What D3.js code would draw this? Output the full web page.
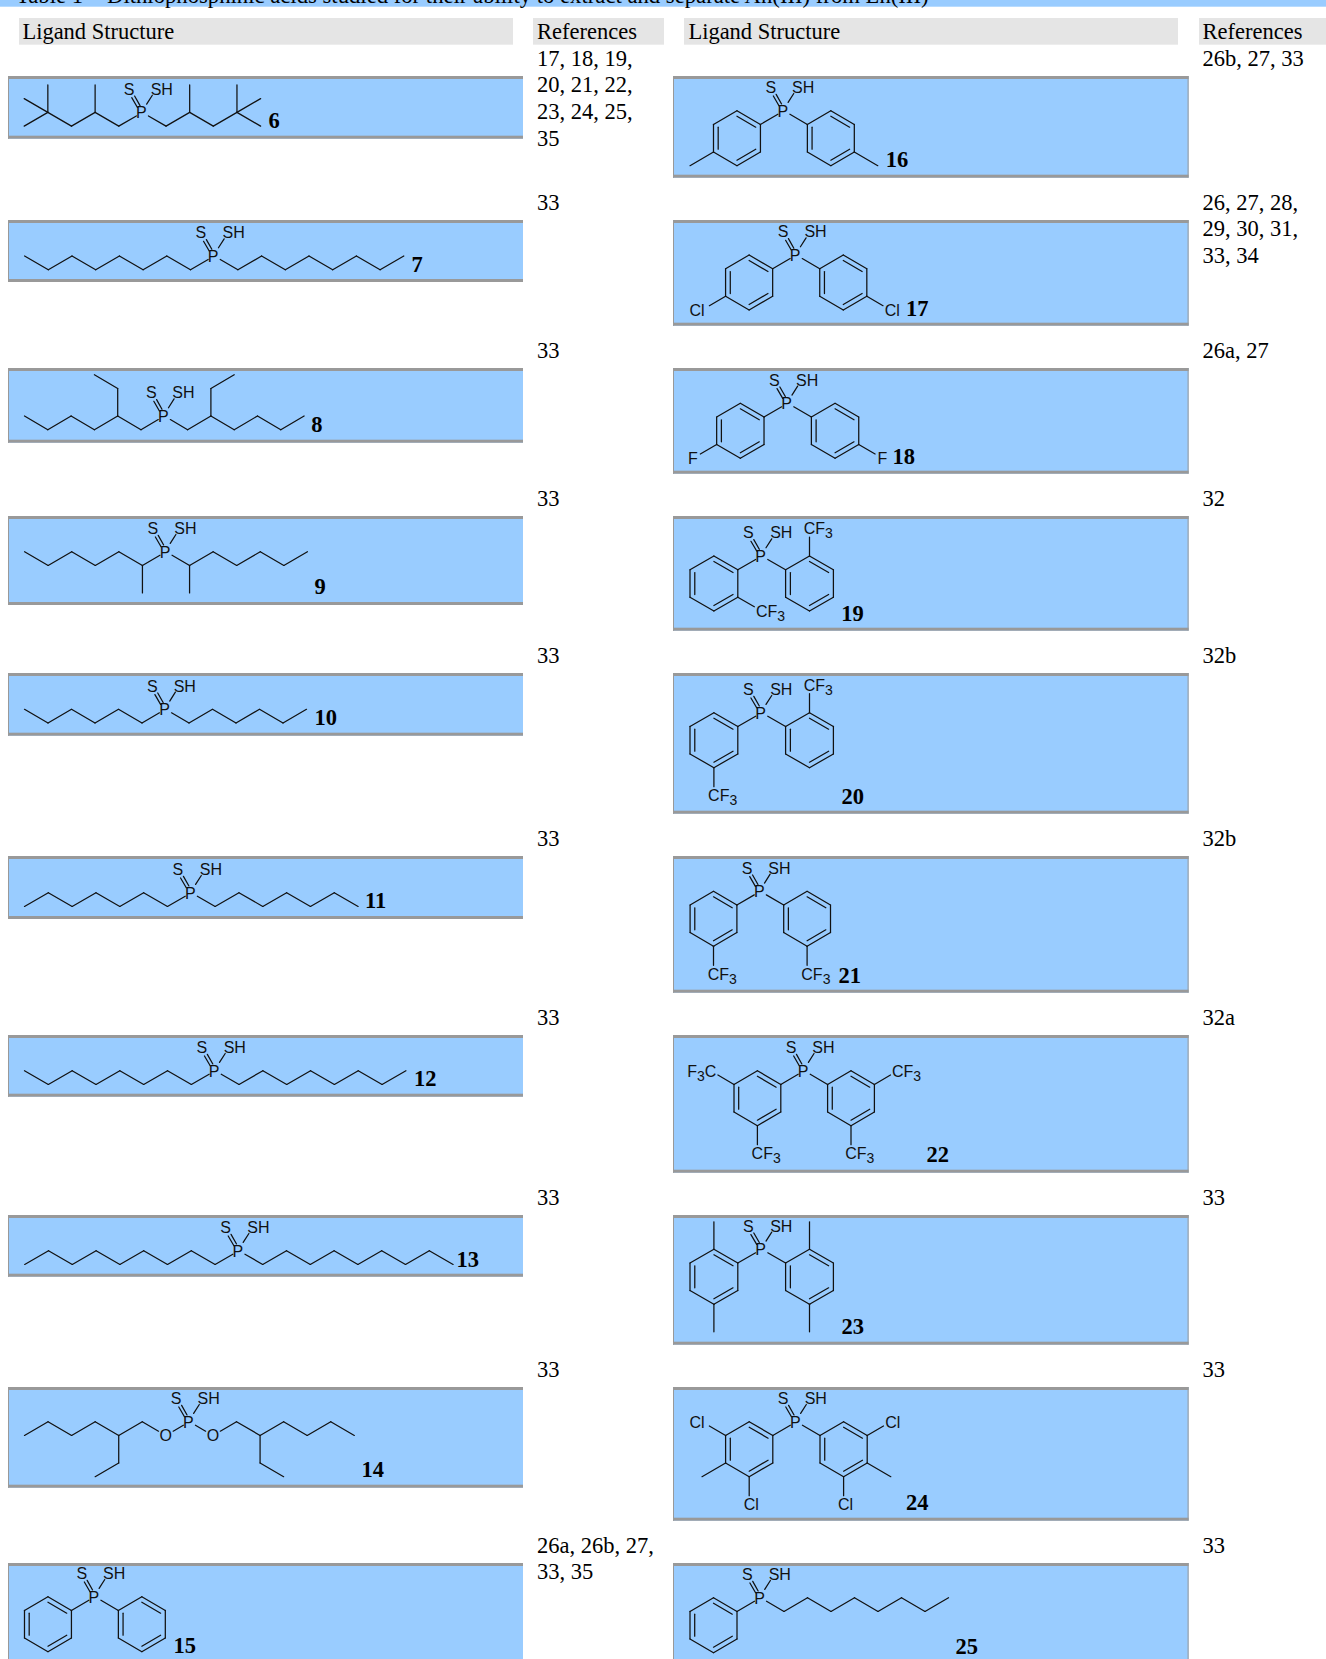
<!DOCTYPE html>
<html>
<head>
<meta charset="utf-8">
<script src="https://d3js.org/d3.v7.min.js"></script>
<style>
  body { margin: 0; background: #fff; }
  svg { display: block; }
  .serif { font-family: "Liberation Serif", serif; fill: #000; }
  .atom { font-family: "Liberation Sans", sans-serif; font-size: 16px; fill: #111; }
  .bond { fill: none; stroke: #111; stroke-width: 1.25; stroke-linecap: round; stroke-linejoin: round; }
</style>
</head>
<body>
<div id="table"></div>
<script>
// structure helpers: atoms sit on a lattice, P is always at (0,0)
const zig = n => d3.range(n + 1).map(i => [i, i % 2]);
const flip = line => line.map(p => [-p[0], p[1]]);
const both = lines => lines.concat(lines.map(flip));
const phenyl = [[[0, 0], [1, 1]], [[1, 1], [2, 0], [3, 1], [3, 3], [2, 4], [1, 3], [1, 1]]];

const titleParts = ["Table 1", "Dithiophosphinic acids studied for their ability to extract and separate An(III) from Ln(III)"];
const headers = ["Ligand Structure", "References"];

// ligand numbers, left and right column
const leftIds = ["6", "7", "8", "9", "10", "11", "12", "13", "14", "15"];
const rightIds = ["16", "17", "18", "19", "20", "21", "22", "23", "24", "25"];

// reference lists
const leftRefs = [
  ["17, 18, 19,", "20, 21, 22,", "23, 24, 25,", "35"],
  ["33"], ["33"], ["33"], ["33"], ["33"], ["33"], ["33"], ["33"],
  ["26a, 26b, 27,", "33, 35"]
];
const rightRefs = [
  ["26b, 27, 33"],
  ["26, 27, 28,", "29, 30, 31,", "33, 34"],
  ["26a, 27"], ["32"], ["32b"], ["32b"], ["32a"], ["33"], ["33"], ["33"]
];

// carbon skeletons
const skeletons = {
  "6": both([zig(4), [[4, 0], [5, -1]], [[4, 0], [5, 1]], [[4, 0], [4, -2]], [[2, 0], [2, -2]]]),
  "7": both([zig(8)]),
  "8": both([zig(6), [[2, 0], [2, -2], [3, -3]]]),
  "9": both([zig(6), [[1, 1], [1, 3]]]),
  "10": both([zig(6)]),
  "11": both([zig(7)]),
  "12": both([zig(8)]),
  "13": both([zig(9)]),
  "14": both([zig(7), [[3, 1], [3, 3], [4, 4]]]),
  "15": both(phenyl),
  "16": both([...phenyl, [[3, 3], [4, 4]]]),
  "17": both([...phenyl, [[3, 3], [4, 4]]]),
  "18": both([...phenyl, [[3, 3], [4, 4]]]),
  "19": [...both(phenyl), [[-1, 3], [0, 4]], [[2, 0], [2, -2]]],
  "20": [...both(phenyl), [[-2, 4], [-2, 6]], [[2, 0], [2, -2]]],
  "21": both([...phenyl, [[2, 4], [2, 6]]]),
  "22": both([...phenyl, [[3, 1], [4, 0]], [[2, 4], [2, 6]]]),
  "23": both([...phenyl, [[2, 0], [2, -2]], [[2, 4], [2, 6]]]),
  "24": both([...phenyl, [[3, 1], [4, 0]], [[3, 3], [4, 4]], [[2, 4], [2, 6]]]),
  "25": [...phenyl.map(flip), zig(8)]
};

// ring centres, by lattice column
const rings = {
  "15": [-2, 2], "16": [-2, 2], "17": [-2, 2], "18": [-2, 2], "19": [-2, 2],
  "20": [-2, 2], "21": [-2, 2], "22": [-2, 2], "23": [-2, 2], "24": [-2, 2], "25": [-2]
};

// labelled atoms other than P and its two sulfurs
const heteroatoms = {
  "14": [[-1, 1, "O"], [1, 1, "O"]],
  "17": [[-4, 4, "Cl"], [4, 4, "Cl"]],
  "18": [[-4, 4, "F"], [4, 4, "F"]],
  "19": [[0, 4, "CF3"], [2, -2, "CF3"]],
  "20": [[-2, 6, "CF3"], [2, -2, "CF3"]],
  "21": [[-2, 6, "CF3"], [2, 6, "CF3"]],
  "22": [[-4, 0, "F3C"], [-2, 6, "CF3"], [4, 0, "CF3"], [2, 6, "CF3"]],
  "24": [[-4, 0, "Cl"], [4, 0, "Cl"], [-2, 6, "Cl"], [2, 6, "Cl"]]
};

// P=S and P-SH, same on every ligand
const thioBonds = [
  [[-0.21, -0.36], [-0.45, -1.07]],
  [[-0.10, -0.49], [-0.33, -1.19]],
  [[0.18, -0.6], [0.42, -1.25]]
];
const thioAtoms = [[-0.56, -1.7, "S"], [0.82, -1.7, "SH"]];

// page layout
const width = 1326, height = 1659;
const rowTops = [76, 220, 368, 516, 673, 856, 1035, 1215, 1387, 1563];
const leftBottoms = [138.7, 282, 442.7, 605, 735.7, 919, 1096.7, 1276.7, 1487.7, 1670];
const rightBottoms = [177.7, 325.7, 473.7, 630.7, 813.7, 992.7, 1172.7, 1344.7, 1520.7, 1670];
const columns = [
  { ids: leftIds, refs: leftRefs, bottoms: leftBottoms, x0: 8, x1: 523, hx0: 19, hx1: 513, rx0: 533, rx1: 664, tx: 22.4, rtx: 537, edge: false,
    px: [142.4, 214.2, 164.3, 166, 165.5, 191.3, 215.2, 238.9, 189.4, 94.9],
    py: [112.4, 256, 416, 551.7, 709.3, 892.7, 1070.7, 1250.7, 1421.7, 1596.7],
    step: [23.64, 23.7, 23.3, 23.57, 23.5, 23.83, 23.84, 23.8, 23.56, 23.47],
    labelX: [268.5, 411.4, 311.2, 314.6, 314.4, 365, 414, 456.5, 361.6, 173.6],
    labelY: [127.7, 271.7, 432.3, 593.5, 725, 908.3, 1086.3, 1267.3, 1476.7, 1653.3] },
  { ids: rightIds, refs: rightRefs, bottoms: rightBottoms, x0: 673, x1: 1188.6, hx0: 684, hx1: 1178, rx0: 1199, rx1: 1326, tx: 688.4, rtx: 1202.5, edge: true,
    px: [783.9, 796.2, 787.7, 761.7, 761.7, 760.3, 804.2, 761.7, 796.4, 760.5],
    py: [110.7, 255, 403.3, 556, 712.7, 891.3, 1070.7, 1249.3, 1421.7, 1597.7],
    step: [23.47, 23.54, 23.68, 23.9, 23.9, 23.4, 23.4, 23.9, 23.6, 23.5],
    labelX: [885.8, 906, 892.6, 841.2, 841.4, 838.5, 926.4, 841.4, 906, 955.6],
    labelY: [167.3, 316, 464, 620.5, 804.3, 982.7, 1162.3, 1334.3, 1510, 1654] }
];
const rowStep = 13.75, borderH = 3, gray = "#999", blue = "#99ccff";

const svg = d3.select("#table").append("svg").attr("width", width).attr("height", height);

// caption band, cut off by the top of the page as in the source
svg.append("rect").attr("width", width).attr("height", 6.7).attr("fill", blue);
svg.selectAll(null).data(titleParts).enter().append("text").attr("class", "serif")
  .attr("x", (d, i) => i ? 107 : 16).attr("y", 2.6).attr("font-size", 22.7).text(d => d);

columns.forEach(col => {
  // header cells
  svg.selectAll(null).data([[col.hx0, col.hx1], [col.rx0, col.rx1]]).enter().append("rect")
    .attr("x", d => d[0]).attr("y", 18).attr("width", d => d[1] - d[0]).attr("height", 26.7).attr("fill", "#e5e5e5");
  svg.selectAll(null).data(headers).enter().append("text").attr("class", "serif")
    .attr("x", (d, i) => i ? col.rtx : col.tx).attr("y", 39).attr("font-size", 22.5).text(d => d);

  col.ids.forEach((id, i) => {
    const top = rowTops[i], bottom = col.bottoms[i];

    // reference lines
    svg.selectAll(null).data(col.refs[i]).enter().append("text").attr("class", "serif")
      .attr("x", col.rtx).attr("y", (d, k) => top - 10.4 + k * 26.7).attr("font-size", 22.5).text(d => d);

    // panel
    svg.append("rect").attr("x", col.x0).attr("y", top).attr("width", col.x1 - col.x0).attr("height", bottom - top).attr("fill", blue);
    svg.selectAll(null).data(col.edge ? [col.x0, col.x1 - 1] : [col.x0]).enter().append("rect")
      .attr("x", d => d).attr("y", top).attr("width", 1).attr("height", bottom - top).attr("fill", gray);
    svg.selectAll(null).data([top, bottom - borderH]).enter().append("rect")
      .attr("x", col.x0).attr("y", d => d).attr("width", col.x1 - col.x0).attr("height", borderH).attr("fill", gray);

    // lattice to page
    const x = d3.scaleLinear().domain([0, 1]).range([col.px[i], col.px[i] + col.step[i]]);
    const y = d3.scaleLinear().domain([0, 1]).range([col.py[i], col.py[i] + rowStep]);
    const line = d3.line().x(p => p[0]).y(p => p[1]);
    const g = svg.append("g");

    const hetero = heteroatoms[id] || [];
    const labelled = new Set(hetero.map(a => a[0] + "," + a[1]));

    // shorten a bond where it runs into an atom label
    const gap = p => p[0] === 0 && p[1] === 0 ? 7 : labelled.has(p.join(",")) ? 8.5 : 0;
    const trim = (a, b) => {
      const ax = x(a[0]), ay = y(a[1]), bx = x(b[0]), by = y(b[1]);
      const len = Math.hypot(bx - ax, by - ay);
      const r0 = gap(a) / len, r1 = gap(b) / len;
      return [[ax + (bx - ax) * r0, ay + (by - ay) * r0], [bx - (bx - ax) * r1, by - (by - ay) * r1]];
    };

    const bonds = skeletons[id].flatMap(l => d3.pairs(l)).map(b => trim(b[0], b[1]));
    const thio = thioBonds.map(b => b.map(p => [x(p[0]), y(p[1])]));

    // inner lines of the rings
    const inner = (rings[id] || []).flatMap(c => {
      const t = p => [x(p[0] + (c - p[0]) * 0.2), y(p[1] + (2 - p[1]) * 0.2)];
      return [
        [[c, 0], [c + 1, 1]],
        [[c + 1, 3], [c, 4]],
        [[c - 1, 3], [c - 1, 1]]
      ].map(e => e.map(t));
    });

    g.selectAll(null).data([...bonds, ...thio, ...inner]).enter().append("path")
      .attr("class", "bond").attr("d", line);

    // atom labels
    const atoms = [[0, 0, "P"], ...thioAtoms, ...hetero];
    const label = g.selectAll(null).data(atoms).enter().append("text").attr("class", "atom")
      .attr("y", d => y(d[1]) + 5.8)
      .attr("x", d => {
        if (d[2] === "P") return x(d[0]) - 1;
        if (d[2] === "Cl") return x(d[0]) + (d[0] < -3 ? -5 : 2);
        if (d[2] === "CF3") return x(d[0]) - 5.8;
        if (d[2] === "F3C") return x(d[0]) + 5.8;
        return x(d[0]);
      })
      .attr("text-anchor", d => d[2] === "CF3" ? "start" : d[2] === "F3C" ? "end" : "middle");
    label.each(function(d) {
      const t = d3.select(this);
      const parts = d[2] === "CF3" ? ["CF", "3"] : d[2] === "F3C" ? ["F", "3", "C"] : [d[2]];
      parts.forEach(s => {
        if (s === "3") t.append("tspan").attr("font-size", 14).attr("dy", 4).text(s);
        else t.append("tspan").attr("dy", parts.indexOf(s) > 0 ? -4 : 0).text(s);
      });
    });

    // ligand number
    g.append("text").attr("class", "serif").attr("x", col.labelX[i]).attr("y", col.labelY[i])
      .attr("font-size", 22.5).attr("font-weight", "bold").text(id);
  });
});
</script>
</body>
</html>
